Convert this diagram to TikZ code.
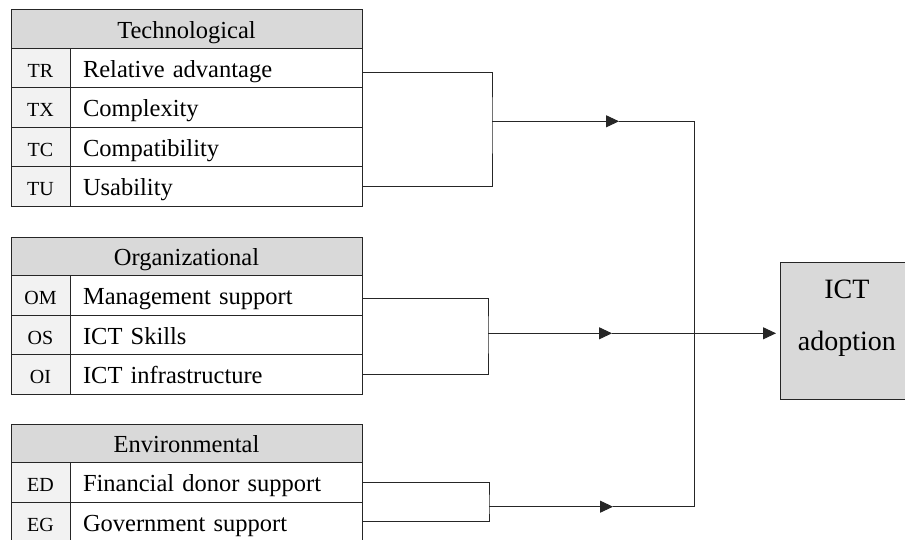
\documentclass[tikz,border=0pt]{standalone}
\usepackage{fontspec}
\setmainfont{Liberation Serif}
\usetikzlibrary{arrows.meta}
\definecolor{headgray}{HTML}{D9D9D9}
\definecolor{codegray}{HTML}{F2F2F2}
\tikzset{
    cell/.style={draw=black!85, line width=0.9pt, anchor=north west, inner sep=0pt, outer sep=0pt, text height=22pt, text depth=3pt},
    head/.style={cell, fill=headgray, minimum width=351pt, minimum height=38.5pt, font=\fontsize{24.5}{29}\selectfont},
    codecell/.style={cell, fill=codegray, minimum width=59pt, minimum height=39.5pt, font=\fontsize{20}{24}\selectfont},
    itemcell/.style={cell, fill=white, minimum width=292pt, minimum height=39.5pt, inner xsep=13pt, text width=266pt, align=left, font=\fontsize{24.5}{29}\selectfont},
    ictbox/.style={draw=black!85, line width=0.9pt, fill=headgray, anchor=north west, inner sep=0pt, minimum width=133pt, minimum height=137pt, align=center, text height=88pt, text depth=49pt, font=\fontsize{28}{52}\selectfont},
    line/.style={draw=black!85, line width=1pt}
}
\begin{document}
\begin{tikzpicture}[x=1pt, y=-1pt, >={Triangle[length=13pt,width=12pt]}]
    \useasboundingbox (0,0) rectangle (905,540);
    \node[head] (tech) at (11,9.5) {Technological};
    \foreach \code/\txt [count=\i] in {TR/Relative advantage, TX/Complexity, TC/Compatibility, TU/Usability}
    {
        \node[codecell] (c\code) at (11,{48+39.5*(\i-1)}) {\code};
        \node[itemcell] (\code) at (70,{48+39.5*(\i-1)}) {\txt};
    }
    \node[head] (org) at (11,237) {Organizational};
    \foreach \code/\txt [count=\i] in {OM/Management support, OS/ICT Skills, OI/ICT infrastructure}
    {
        \node[codecell] (c\code) at (11,{275.5+39.5*(\i-1)}) {\code};
        \node[itemcell] (\code) at (70,{275.5+39.5*(\i-1)}) {\txt};
    }
    \node[head] (env) at (11,424) {Environmental};
    \foreach \code/\txt [count=\i] in {ED/Financial donor support, EG/Government support}
    {
        \node[codecell] (c\code) at (11,{462.5+39.5*(\i-1)}) {\code};
        \node[itemcell] (\code) at (70,{462.5+39.5*(\i-1)}) {\txt};
    }
    \node[ictbox] (ict) at (780,261.7) {ICT\\adoption};

    \coordinate (tb) at (492,121.3);
    \coordinate (ta) at (619,121.3);
    \coordinate (tk) at (694,121.3);
    \coordinate (ob) at (488,333.3);
    \coordinate (oa) at (612,333.3);
    \coordinate (eb) at (489,506.7);
    \coordinate (ea) at (613,506.7);
    \coordinate (ek) at (694,506.7);

    \draw[line] ([yshift=-5pt]TR.east) -| (tb) |- (TU.east);
    \draw[line,->] (tb) -- (ta);
    \draw[line] (ta) -- (tk) -- (ek);
    \draw[line] ([yshift=-3pt]OM.east) -| (ob) |- (OI.east);
    \draw[line,->] (ob) -- (oa);
    \draw[line,->,shorten >=4pt] (oa) -- (oa -| ict.west);
    \draw[line] (ED.east) -| (eb) |- (EG.east);
    \draw[line,->] (eb) -- (ea);
    \draw[line] (ea) -- (ek);
\end{tikzpicture}
\end{document}
